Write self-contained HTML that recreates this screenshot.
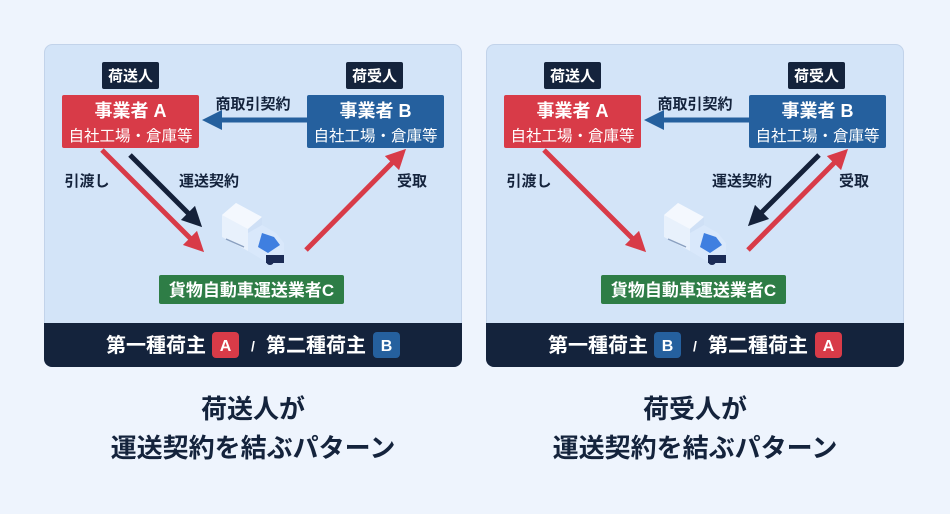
<!DOCTYPE html>
<html><head><meta charset="utf-8"><style>
body{margin:0;background:#eef4fd;width:950px;height:509px;overflow:hidden}
text{font-family:"Liberation Sans","Noto Sans CJK JP",sans-serif;font-weight:bold}
</style></head><body>
<svg width="950" height="509" viewBox="0 0 950 509" xmlns="http://www.w3.org/2000/svg">
<defs>
<marker id="mr" markerWidth="4" markerHeight="4" refX="2" refY="2" orient="auto" markerUnits="strokeWidth"><path d="M0,0 L4,2 L0,4 Z" fill="#d83b48"/></marker>
<marker id="md" markerWidth="4" markerHeight="4" refX="2" refY="2" orient="auto" markerUnits="strokeWidth"><path d="M0,0 L4,2 L0,4 Z" fill="#14213a"/></marker>
<marker id="mb" markerWidth="4" markerHeight="4" refX="2" refY="2" orient="auto" markerUnits="strokeWidth"><path d="M0,0 L4,2 L0,4 Z" fill="#25609e"/></marker>
<g id="truck">
<polygon points="0,12 14,0 40,14 40,36 26,48 0,34" fill="#e8f1fc"/>
<polygon points="0,12 14,0 40,14 26,26" fill="#f4f8fe"/>
<polygon points="26,26 40,14 40,36 26,48" fill="#cfe0f6"/>
<polygon points="26,30 40,22 54,30 62,40 62,50 46,60 26,48" fill="#d9e8fb"/>
<polygon points="40,30 52,34 58,42 46,50 36,44" fill="#3f7fe0"/>
<rect x="44" y="52" width="18" height="8" fill="#1b2b55"/>
<circle cx="48" cy="58" r="4" fill="#1b2b55"/>
<line x1="4" y1="36" x2="22" y2="44" stroke="#8aa0c0" stroke-width="1.5"/>
</g>
<g id="panel">
<rect x="44.5" y="44.5" width="417" height="322" rx="8" fill="#d3e4f8" stroke="#c2d3ea"/>
<path d="M44,323 H462 V359 a8,8 0 0 1 -8,8 H52 a8,8 0 0 1 -8,-8 Z" fill="#14233c"/>
<rect x="102" y="62" width="57" height="27" rx="2" fill="#14233c"/>
<text x="130.5" y="81" fill="#fff" font-size="15" text-anchor="middle">荷送人</text>
<rect x="346" y="62" width="57" height="27" rx="2" fill="#14233c"/>
<text x="374.5" y="81" fill="#fff" font-size="15" text-anchor="middle">荷受人</text>
<rect x="62" y="95" width="137" height="53" rx="2" fill="#d83b48"/>
<text x="130.5" y="117" fill="#fff" font-size="18" text-anchor="middle">事業者 A</text>
<text x="130.5" y="141" fill="#fff" font-size="15.5" text-anchor="middle" style="font-weight:normal">自社工場・倉庫等</text>
<rect x="307" y="95" width="137" height="53" rx="2" fill="#25609e"/>
<text x="375.5" y="117" fill="#fff" font-size="18" text-anchor="middle">事業者 B</text>
<text x="375.5" y="141" fill="#fff" font-size="15.5" text-anchor="middle" style="font-weight:normal">自社工場・倉庫等</text>
<line x1="307" y1="120" x2="212" y2="120" stroke="#25609e" stroke-width="5" marker-end="url(#mb)"/>
<text x="253" y="109" fill="#14233c" font-size="15" text-anchor="middle">商取引契約</text>
<text x="87" y="186" fill="#14233c" font-size="15" text-anchor="middle">引渡し</text>
<text x="412" y="186" fill="#14233c" font-size="15" text-anchor="middle">受取</text>
<line x1="102" y1="150" x2="197" y2="245" stroke="#d83b48" stroke-width="5" marker-end="url(#mr)"/>
<line x1="306" y1="250" x2="399" y2="156" stroke="#d83b48" stroke-width="5" marker-end="url(#mr)"/>
<use href="#truck" x="222" y="203"/>
<rect x="159" y="275" width="185" height="29" rx="2" fill="#2e7d46"/>
<text x="251.5" y="296" fill="#fff" font-size="17" text-anchor="middle">貨物自動車運送業者C</text>
<text x="156" y="352" fill="#fff" font-size="20" text-anchor="middle">第一種荷主</text>
<text x="253" y="351" fill="#fff" font-size="14" text-anchor="middle">/</text>
<text x="316" y="352" fill="#fff" font-size="20" text-anchor="middle">第二種荷主</text>
<text x="253" y="457" fill="#14233c" font-size="26" text-anchor="middle">運送契約を結ぶパターン</text>
</g>
</defs>

<g>
<use href="#panel"/>
<text x="253" y="418" fill="#14233c" font-size="26" text-anchor="middle">荷送人が</text>
<text x="209" y="186" fill="#14233c" font-size="15" text-anchor="middle">運送契約</text>
<line x1="130" y1="155" x2="195" y2="220" stroke="#14213a" stroke-width="5" marker-end="url(#md)"/>
<rect x="212" y="332" width="27" height="26" rx="4" fill="#d83b48"/>
<text x="225.5" y="351" fill="#fff" font-size="16" text-anchor="middle">A</text>
<rect x="373" y="332" width="27" height="26" rx="4" fill="#25609e"/>
<text x="386.5" y="351" fill="#fff" font-size="16" text-anchor="middle">B</text>
</g>

<g transform="translate(442,0)">
<use href="#panel"/>
<text x="253" y="418" fill="#14233c" font-size="26" text-anchor="middle">荷受人が</text>
<text x="300" y="186" fill="#14233c" font-size="15" text-anchor="middle">運送契約</text>
<line x1="377" y1="155" x2="313" y2="219" stroke="#14213a" stroke-width="5" marker-end="url(#md)"/>
<rect x="212" y="332" width="27" height="26" rx="4" fill="#25609e"/>
<text x="225.5" y="351" fill="#fff" font-size="16" text-anchor="middle">B</text>
<rect x="373" y="332" width="27" height="26" rx="4" fill="#d83b48"/>
<text x="386.5" y="351" fill="#fff" font-size="16" text-anchor="middle">A</text>
</g>
</svg>
</body></html>
